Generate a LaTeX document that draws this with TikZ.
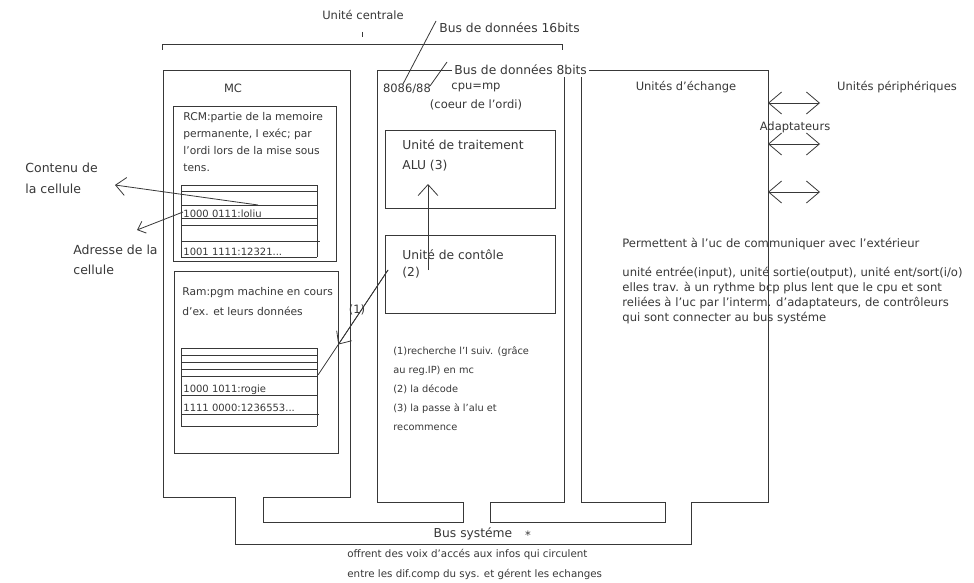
\documentclass[tikz,border=0pt]{standalone}
\usepackage{fontspec}
\setmainfont{DejaVu Sans}
\usetikzlibrary{arrows.meta,calc}
\definecolor{ink}{HTML}{383838}

\begin{document}
\begin{tikzpicture}[x=1pt, y=-1pt, line width=0.8pt, color=ink,
    lbl/.style={font=\fontsize{11.5}{20}\selectfont, inner sep=0pt},
    big/.style={font=\fontsize{12.3}{20}\selectfont, inner sep=0pt},
    txt/.style={font=\fontsize{10.7}{17}\selectfont, inner sep=0pt, align=left, anchor=north west},
    cell/.style={font=\fontsize{10}{12}\selectfont, inner sep=0pt, anchor=base west},
    side/.style={font=\fontsize{11.6}{15}\selectfont, inner sep=0pt, align=left, anchor=north west},
    note/.style={font=\fontsize{9.8}{19}\selectfont, inner sep=0pt, align=left, anchor=north west},
    barb/.style={-{Straight Barb[length=#1, width=1.8*#1]}},
    twoway/.style={{Straight Barb[length=13pt, width=22pt]}-{Straight Barb[length=13pt, width=22pt]}}]

    \path[use as bounding box, fill=white] (0,0) rectangle (974,583);

    % Define the points of the connectors
    \coordinate (b16) at (436,21);
    \coordinate (b16end) at (403,84);
    \coordinate (b8) at (447,62);
    \coordinate (b8end) at (430,86);
    \coordinate (cont) at (258,205);
    \coordinate (contend) at (115,185);
    \coordinate (adr) at (183,212);
    \coordinate (adrend) at (137,230);
    \coordinate (ctl) at (428,270);
    \coordinate (alu) at (428,184);
    \coordinate (fetch) at (388,270);
    \coordinate (ramcell) at (318,375);

    % Draw the central unit bracket
    \draw (162,50) -- (162,44) -- (562,44) -- (562,50);
    \draw (362,32) -- (362,37);

    % Draw the boxes and the system bus
    \draw (235,497) -- (163,497) -- (163,70) -- (350,70) -- (350,497) -- (263,497) -- (263,522)
        -- (463,522) -- (463,502) -- (377,502) -- (377,70) -- (768,70) -- (768,502)
        -- (691,502) -- (691,544) -- (235,544) -- cycle;
    \draw (564,70) -- (564,502) -- (490,502) -- (490,522) -- (665,522) -- (665,502)
        -- (581,502) -- (581,70);
    \draw (173,106) rectangle (336,261);
    \draw (174,271) rectangle (338,453);
    \draw (385,130) rectangle (555,208);
    \draw (385,235) rectangle (555,313);

    % Draw the memory cells
    \foreach \y in {185,191,205,218,225,257}
        \draw (181,\y) -- (317,\y);
    \draw (181,241) -- (320,241);
    \draw (181,185) -- (181,257);
    \draw (317,185) -- (317,257);
    \foreach \y in {348,355,362,369,376,395,426}
        \draw (181,\y) -- (317,\y);
    \draw (181,414) -- (319,414);
    \draw (181,348) -- (181,426);
    \draw (317,348) -- (317,426);

    % Draw the data bus labels
    \draw (b16) -- (b16end);
    \draw (b8) -- (b8end);

    % Draw the arrows
    \draw[barb=10pt] (cont) -- (contend);
    \draw[barb=7pt] (adr) -- (adrend);
    \draw[barb=11pt] (ctl) -- (alu);
    \draw (fetch) -- (ramcell);
    \draw[barb=10pt] (fetch) -- ($(fetch)!0.71!(ramcell)$);
    \foreach \y [count=\i] in {103,144,192} {
        \coordinate (ad\i) at (768,\y);
        \coordinate (pe\i) at (820,\y);
        \draw[twoway] (ad\i) -- (pe\i);
    }

    % Place the labels
    \node[lbl] (centrale) at (363,15) {Unité centrale};
    \node[big, anchor=west] (bus16) at (439,28) {Bus de données 16bits};
    \node[big, anchor=west, fill=white, inner sep=2pt] (bus8) at (452,70) {Bus de données 8bits};
    \node[lbl] (proc) at (407,89) {8086/88};
    \node[lbl] (cpu) at (476,87) {cpu=mp};
    \node[lbl] (coeur) at (476,105) {(coeur de l'ordi)};
    \node[lbl] (mc) at (233,88) {MC};
    \node[txt] (rcm) at (183,112) {RCM:partie de la memoire\\permanente, I exéc; par\\l'ordi lors de la mise sous\\tens.};
    \node[cell] (c1) at (183,217) {1000 0111:loliu};
    \node[cell] (c2) at (183,255) {1001 1111:12321...};
    \node[txt, font=\fontsize{10.7}{20}\selectfont] (ram) at (182,287) {Ram:pgm machine en cours\\d'ex. et leurs données};
    \node[cell] (c3) at (183,392) {1000 1011:rogie};
    \node[cell] (c4) at (183,411) {1111 0000:1236553...};
    \node[lbl, font=\fontsize{12.5}{21}\selectfont, align=left, anchor=north west] (contenu) at (25,163) {Contenu de\\la cellule};
    \node[lbl, font=\fontsize{12.5}{20}\selectfont, align=left, anchor=north west] (adresse) at (73,245) {Adresse de la\\cellule};
    \node[big, align=left, anchor=north west] (trait) at (402,139) {Unité de traitement\\ALU (3)};
    \node[big, align=left, anchor=north west, font=\fontsize{12.3}{17}\selectfont] (ctrl) at (402,249) {Unité de contôle\\(2)};
    \node[lbl] (un1) at (357,310) {(1)};
    \node[note] (etapes) at (393,346) {(1)recherche l'I suiv. (grâce\\au reg.IP) en mc\\(2) la décode\\(3) la passe à l'alu et\\recommence};
    \node[lbl] (echange) at (686,87) {Unités d'échange};
    \node[lbl] (periph) at (897,87) {Unités périphériques};
    \node[lbl] (adapt) at (795,127) {Adaptateurs};
    \node[side, anchor=west] (perm) at (622,244) {Permettent à l'uc de communiquer avec l'extérieur};
    \node[side] (unites) at (622,267) {unité entrée(input), unité sortie(output), unité ent/sort(i/o)\\elles trav. à un rythme bcp plus lent que le cpu et sont\\reliées à l'uc par l'interm. d'adaptateurs, de contrôleurs\\qui sont connecter au bus systéme};
    \node[big] (bussys) at (473,534) {Bus systéme};
    \node[lbl] (star) at (528,535) {*};
    \node[note, font=\fontsize{10.3}{20}\selectfont] (offrent) at (347,549) {offrent des voix d'accés aux infos qui circulent\\entre les dif.comp du sys. et gérent les echanges};

\end{tikzpicture}
\end{document}
